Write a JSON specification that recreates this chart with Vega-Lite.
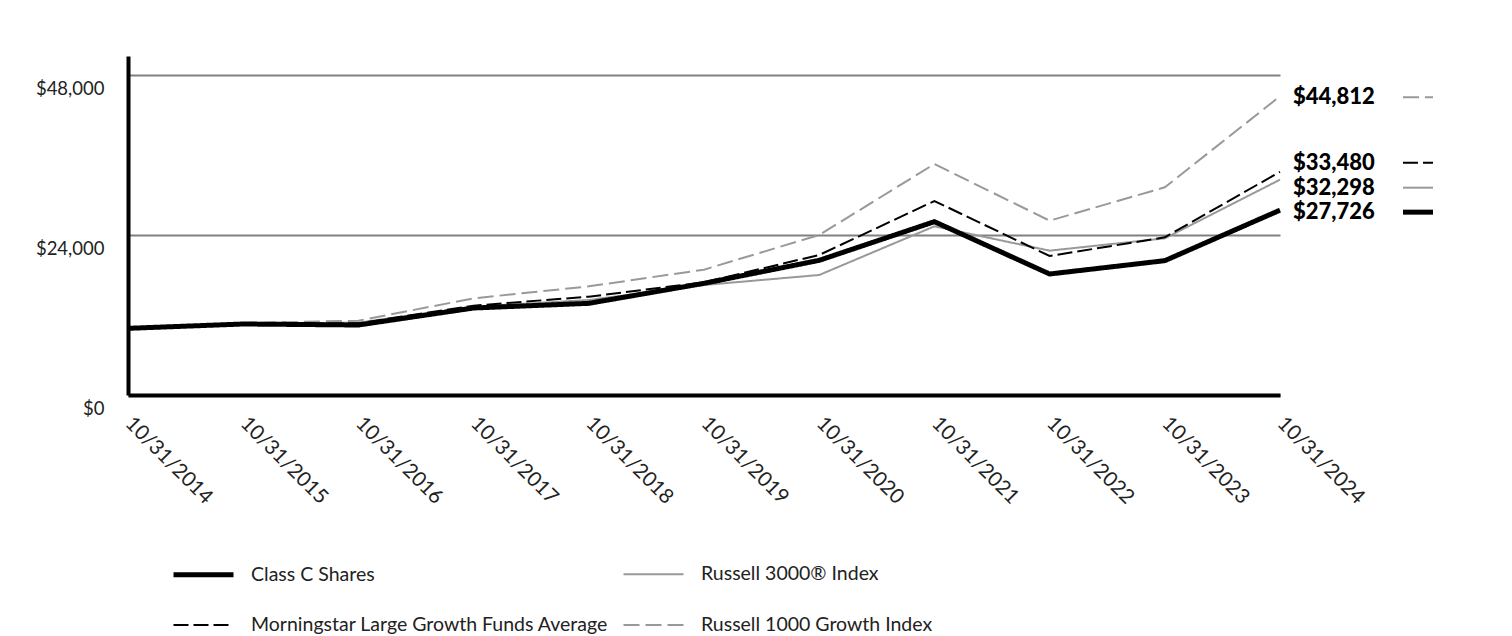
{
  "$schema": "https://vega.github.io/schema/vega-lite/v6.json",
  "width": 1152,
  "height": 339,
  "autosize": {"type": "none"},
  "padding": {"left": 128, "top": 56, "right": 232, "bottom": 241},
  "background": "white",
  "config": {"view": {"stroke": null}, "font": "Lato"},
  "datasets": {
    "growth": [
      {"date": "10/31/2014", "series": "Russell 1000 Growth Index", "value": 10000},
      {"date": "10/31/2015", "series": "Russell 1000 Growth Index", "value": 10800},
      {"date": "10/31/2016", "series": "Russell 1000 Growth Index", "value": 11150},
      {"date": "10/31/2017", "series": "Russell 1000 Growth Index", "value": 14500},
      {"date": "10/31/2018", "series": "Russell 1000 Growth Index", "value": 16300},
      {"date": "10/31/2019", "series": "Russell 1000 Growth Index", "value": 18800},
      {"date": "10/31/2020", "series": "Russell 1000 Growth Index", "value": 24000},
      {"date": "10/31/2021", "series": "Russell 1000 Growth Index", "value": 34650},
      {"date": "10/31/2022", "series": "Russell 1000 Growth Index", "value": 26150},
      {"date": "10/31/2023", "series": "Russell 1000 Growth Index", "value": 31150},
      {"date": "10/31/2024", "series": "Russell 1000 Growth Index", "value": 44812},
      {"date": "10/31/2014", "series": "Russell 3000® Index", "value": 10000},
      {"date": "10/31/2015", "series": "Russell 3000® Index", "value": 10700},
      {"date": "10/31/2016", "series": "Russell 3000® Index", "value": 10850},
      {"date": "10/31/2017", "series": "Russell 3000® Index", "value": 13250},
      {"date": "10/31/2018", "series": "Russell 3000® Index", "value": 14250},
      {"date": "10/31/2019", "series": "Russell 3000® Index", "value": 16500},
      {"date": "10/31/2020", "series": "Russell 3000® Index", "value": 18000},
      {"date": "10/31/2021", "series": "Russell 3000® Index", "value": 25300},
      {"date": "10/31/2022", "series": "Russell 3000® Index", "value": 21650},
      {"date": "10/31/2023", "series": "Russell 3000® Index", "value": 23500},
      {"date": "10/31/2024", "series": "Russell 3000® Index", "value": 32298},
      {"date": "10/31/2014", "series": "Morningstar Large Growth Funds Average", "value": 10000},
      {"date": "10/31/2015", "series": "Morningstar Large Growth Funds Average", "value": 10700},
      {"date": "10/31/2016", "series": "Morningstar Large Growth Funds Average", "value": 10750},
      {"date": "10/31/2017", "series": "Morningstar Large Growth Funds Average", "value": 13400},
      {"date": "10/31/2018", "series": "Morningstar Large Growth Funds Average", "value": 14750},
      {"date": "10/31/2019", "series": "Morningstar Large Growth Funds Average", "value": 16900},
      {"date": "10/31/2020", "series": "Morningstar Large Growth Funds Average", "value": 21000},
      {"date": "10/31/2021", "series": "Morningstar Large Growth Funds Average", "value": 29100},
      {"date": "10/31/2022", "series": "Morningstar Large Growth Funds Average", "value": 20850},
      {"date": "10/31/2023", "series": "Morningstar Large Growth Funds Average", "value": 23650},
      {"date": "10/31/2024", "series": "Morningstar Large Growth Funds Average", "value": 33480},
      {"date": "10/31/2014", "series": "Class C Shares", "value": 10000},
      {"date": "10/31/2015", "series": "Class C Shares", "value": 10650},
      {"date": "10/31/2016", "series": "Class C Shares", "value": 10500},
      {"date": "10/31/2017", "series": "Class C Shares", "value": 13050},
      {"date": "10/31/2018", "series": "Class C Shares", "value": 13750},
      {"date": "10/31/2019", "series": "Class C Shares", "value": 16750},
      {"date": "10/31/2020", "series": "Class C Shares", "value": 20200},
      {"date": "10/31/2021", "series": "Class C Shares", "value": 26000},
      {"date": "10/31/2022", "series": "Class C Shares", "value": 18150},
      {"date": "10/31/2023", "series": "Class C Shares", "value": 20150},
      {"date": "10/31/2024", "series": "Class C Shares", "value": 27726}
    ],
    "ending": [
      {"date": "10/31/2024", "series": "Russell 1000 Growth Index", "value": 44812, "label": "$44,812"},
      {"date": "10/31/2024", "series": "Morningstar Large Growth Funds Average", "value": 33480, "label": "$33,480"},
      {"date": "10/31/2024", "series": "Russell 3000® Index", "value": 32298, "label": "$32,298"},
      {"date": "10/31/2024", "series": "Class C Shares", "value": 27726, "label": "$27,726"}
    ]
  },
  "encoding": {
    "x": {
      "field": "date", "type": "ordinal", "sort": null,
      "scale": {"type": "point", "padding": 0},
      "axis": {
        "title": null, "labelAngle": 45, "labelAlign": "left", "labelBaseline": "middle",
        "labelFontSize": 20.5, "labelColor": "#222222", "labelPadding": 25,
        "ticks": false, "domainColor": "#000000", "domainWidth": 4, "grid": false
      }
    },
    "y": {
      "field": "value", "type": "quantitative",
      "scale": {"domain": [0, 50850], "nice": false, "zero": true},
      "axis": {
        "title": null, "values": [0, 24000, 48000], "format": "$,.0f",
        "ticks": false, "labelPadding": 24, "labelFontSize": 18.5, "labelColor": "#222222",
        "labelOffset": 13, "domainColor": "#000000", "domainWidth": 4,
        "grid": true, "gridColor": "#808080", "gridWidth": 2
      }
    }
  },
  "layer": [
    {
      "data": {"name": "growth"},
      "mark": {"type": "line", "strokeCap": "butt", "strokeJoin": "miter"},
      "encoding": {
        "color": {
          "field": "series", "type": "nominal",
          "scale": {
            "domain": ["Class C Shares", "Morningstar Large Growth Funds Average", "Russell 3000® Index", "Russell 1000 Growth Index"],
            "range": ["#000000", "#000000", "#999999", "#999999"]
          },
          "legend": {
            "orient": "none", "legendX": 43, "legendY": 486, "columns": 2, "title": null,
            "padding": 0, "symbolType": "stroke", "symbolSize": 3600,
            "labelFont": "Lato", "labelFontSize": 19.5, "labelColor": "#222222",
            "labelOffset": 15, "columnPadding": 10, "rowPadding": 9, "labelLimit": 600
          }
        },
        "strokeDash": {
          "field": "series", "type": "nominal",
          "scale": {
            "domain": ["Class C Shares", "Morningstar Large Growth Funds Average", "Russell 3000® Index", "Russell 1000 Growth Index"],
            "range": [[1, 0], [15, 5], [1, 0], [16, 6]]
          }
        },
        "strokeWidth": {
          "field": "series", "type": "nominal",
          "scale": {
            "type": "ordinal",
            "domain": ["Class C Shares", "Morningstar Large Growth Funds Average", "Russell 3000® Index", "Russell 1000 Growth Index"],
            "range": [5, 2, 2, 2]
          }
        }
      }
    },
    {
      "data": {"name": "ending"},
      "transform": [{"filter": "datum.series === 'Russell 1000 Growth Index'"}],
      "layer": [
        {"mark": {"type": "text", "align": "left", "baseline": "middle", "dx": 13, "dy": 1, "fontSize": 22, "fontWeight": 900, "color": "#000000"},
         "encoding": {"text": {"field": "label"}}},
        {"mark": {"type": "rule", "xOffset": 123, "x2Offset": 153, "yOffset": 1, "color": "#999999", "strokeWidth": 2, "strokeDash": [16, 6]},
         "encoding": {"x2": {"field": "date"}}}
      ]
    },
    {
      "data": {"name": "ending"},
      "transform": [{"filter": "datum.series === 'Morningstar Large Growth Funds Average'"}],
      "layer": [
        {"mark": {"type": "text", "align": "left", "baseline": "middle", "dx": 13, "dy": -9, "fontSize": 22, "fontWeight": 900, "color": "#000000"},
         "encoding": {"text": {"field": "label"}}},
        {"mark": {"type": "rule", "xOffset": 123, "x2Offset": 153, "yOffset": -9, "color": "#000000", "strokeWidth": 2, "strokeDash": [15, 5]},
         "encoding": {"x2": {"field": "date"}}}
      ]
    },
    {
      "data": {"name": "ending"},
      "transform": [{"filter": "datum.series === 'Russell 3000® Index'"}],
      "layer": [
        {"mark": {"type": "text", "align": "left", "baseline": "middle", "dx": 13, "dy": 8, "fontSize": 22, "fontWeight": 900, "color": "#000000"},
         "encoding": {"text": {"field": "label"}}},
        {"mark": {"type": "rule", "xOffset": 123, "x2Offset": 153, "yOffset": 8, "color": "#999999", "strokeWidth": 2},
         "encoding": {"x2": {"field": "date"}}}
      ]
    },
    {
      "data": {"name": "ending"},
      "transform": [{"filter": "datum.series === 'Class C Shares'"}],
      "layer": [
        {"mark": {"type": "text", "align": "left", "baseline": "middle", "dx": 13, "dy": 2, "fontSize": 22, "fontWeight": 900, "color": "#000000"},
         "encoding": {"text": {"field": "label"}}},
        {"mark": {"type": "rule", "xOffset": 123, "x2Offset": 153, "yOffset": 2, "color": "#000000", "strokeWidth": 5},
         "encoding": {"x2": {"field": "date"}}}
      ]
    }
  ]
}
